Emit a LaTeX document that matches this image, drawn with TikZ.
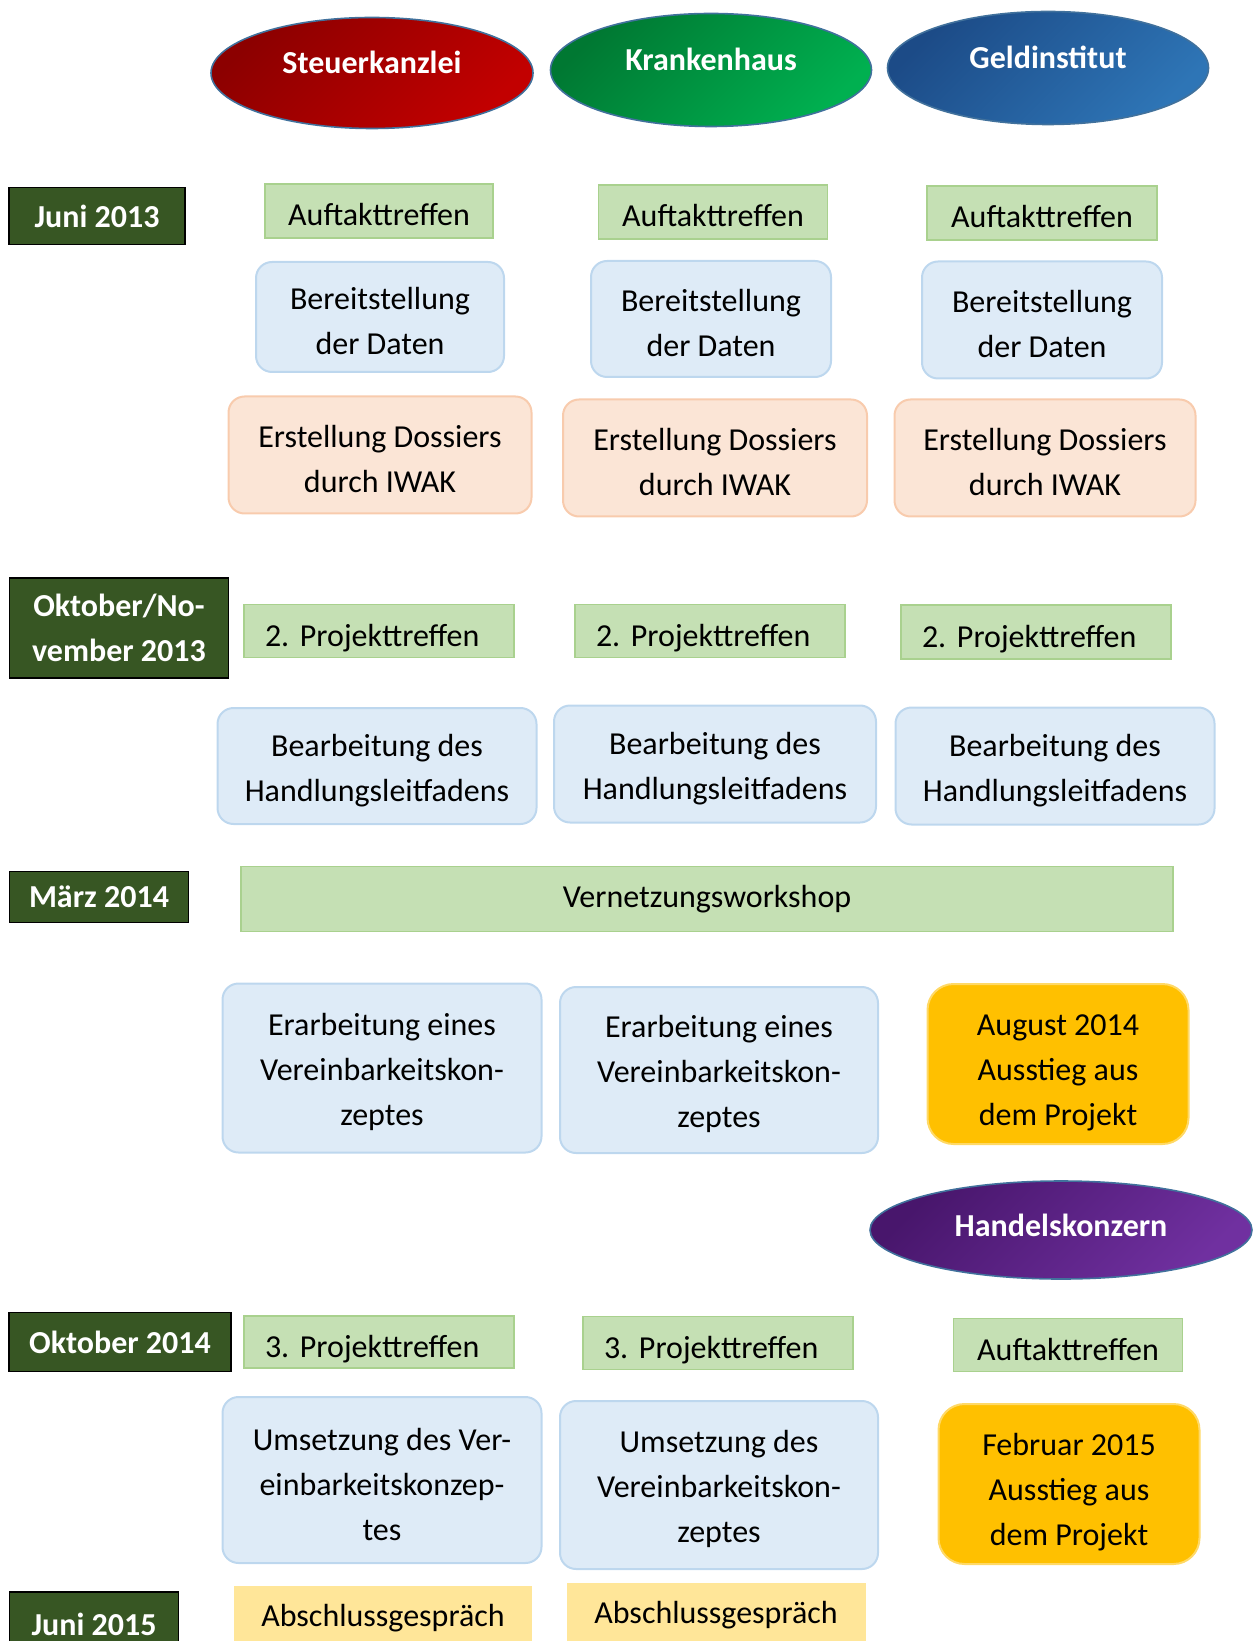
\documentclass[tikz,border=0pt]{standalone}
\usepackage{fontspec}
\setmainfont{Carlito}
\usepackage{xcolor}
\usetikzlibrary{shapes.geometric}

\definecolor{datgreen}{HTML}{375623}
\definecolor{meetfill}{HTML}{C5E0B4}
\definecolor{meetline}{HTML}{A9D18E}
\definecolor{taskfill}{HTML}{DEEBF7}
\definecolor{taskline}{HTML}{BDD7EE}
\definecolor{dosfill}{HTML}{FBE5D6}
\definecolor{dosline}{HTML}{F8CBAD}
\definecolor{goldfill}{HTML}{FFC000}
\definecolor{goldline}{HTML}{FFD966}
\definecolor{absfill}{HTML}{FFE699}
\definecolor{ellline}{HTML}{41719C}

% pushes the first line of a box a little down
\newcommand{\topgap}[1][15.5pt]{\rule{0pt}{#1}}

\begin{document}
\begin{tikzpicture}[
  x=0.5pt, y=-0.5pt,
  font=\fontsize{16}{22.5}\selectfont\frenchspacing,
  sz/.style 2 args={minimum width=#1, minimum height=#2},
  company/.style={ellipse, draw=ellline, line width=0.8pt, inner sep=0pt,
                  text=white, font=\fontsize{16}{20}\selectfont\bfseries,
                  text height=11pt, text depth=10pt},
  datum/.style={draw=black, line width=0.8pt, fill=datgreen, text=white,
                font=\fontsize{16}{22.5}\selectfont\bfseries, align=center, inner sep=0pt},
  meet/.style={draw=meetline, line width=0.6pt, fill=meetfill, inner sep=0pt,
               text height=18pt, text depth=3pt},
  proj/.style={meet, align=left, text width=114pt, inner xsep=10.5pt},
  task/.style={rectangle, rounded corners=8pt, draw=taskline, line width=1pt,
               fill=taskfill, align=center, inner sep=0pt},
  dossier/.style={task, draw=dosline, fill=dosfill},
  ausstieg/.style={task, rounded corners=13pt, draw=goldline, fill=goldfill},
  abschluss/.style={fill=absfill, inner sep=0pt}
]
\useasboundingbox (0,0) rectangle (1253,1641);
\clip (0,0) rectangle (1253,1641);

% Unternehmen
\node[company, sz={161pt}{55.5pt}, top color=red!55!black, bottom color=red!75!black!95!red,
      shading angle=45] (steuer) at (372,73) {Steuerkanzlei};
\node[company, sz={160.5pt}{56.5pt}, top color={rgb,255:red,0;green,120;blue,50},
      bottom color={rgb,255:red,0;green,176;blue,80}, shading angle=45] (kranken) at (711,70) {Krankenhaus};
\node[company, sz={160.5pt}{56.5pt}, top color={rgb,255:red,28;green,75;blue,135},
      bottom color={rgb,255:red,46;green,117;blue,182}, shading angle=45] (geld) at (1048,68) {Geldinstitut};
\node[company, sz={191pt}{49pt}, text depth=5pt, top color={rgb,255:red,72;green,22;blue,108},
      bottom color={rgb,255:red,112;green,48;blue,160}, shading angle=45] (handel) at (1061,1230) {Handelskonzern};

% Zeitpunkte
\node[datum, sz={88pt}{28.5pt}] (juni13) at (97,216) {Juni 2013};
\node[datum, sz={109.5pt}{50pt}] (okt13) at (119,628) {Oktober/No-\\vember 2013};
\node[datum, sz={89.5pt}{25.5pt}] (maerz14) at (99,897) {März 2014};
\node[datum, sz={111pt}{29.5pt}] (okt14) at (120,1342) {Oktober 2014};
\node[datum, sz={84.5pt}{32pt}] (juni15) at (94,1624) {Juni 2015};

% Juni 2013
\node[meet, sz={114pt}{27pt}] (auf1) at (379,211) {Auftakttreffen};
\node[meet, sz={114.5pt}{27pt}] (auf2) at (713,212) {Auftakttreffen};
\node[meet, sz={115pt}{27pt}] (auf3) at (1042,213) {Auftakttreffen};
\node[task, sz={124pt}{55pt}] (daten1) at (380,317) {\topgap Bereitstellung\\der Daten};
\node[task, sz={120pt}{58pt}] (daten2) at (711,319) {\topgap Bereitstellung\\der Daten};
\node[task, sz={120pt}{58.5pt}] (daten3) at (1042,320) {\topgap Bereitstellung\\der Daten};
\node[dossier, sz={151.5pt}{58.5pt}] (dos1) at (380,455) {\topgap Erstellung Dossiers\\durch IWAK};
\node[dossier, sz={152pt}{58.5pt}] (dos2) at (715,458) {\topgap Erstellung Dossiers\\durch IWAK};
\node[dossier, sz={150.5pt}{58.5pt}] (dos3) at (1045,458) {\topgap Erstellung Dossiers\\durch IWAK};

% Oktober/November 2013
\node[proj, minimum height=26.5pt] (pt1) at (379,631) {2. Projekttreffen};
\node[proj, minimum height=26.5pt] (pt2) at (710,631) {2. Projekttreffen};
\node[proj, minimum height=27pt] (pt3) at (1036,632) {2. Projekttreffen};
\node[task, sz={159.5pt}{58pt}] (leit1) at (377,766) {\topgap Bearbeitung des\\Handlungsleitfadens};
\node[task, sz={161pt}{58.5pt}] (leit2) at (715,764) {\topgap Bearbeitung des\\Handlungsleitfadens};
\node[task, sz={159.5pt}{58.5pt}] (leit3) at (1055,766) {\topgap Bearbeitung des\\Handlungsleitfadens};

% März 2014
\node[meet, sz={466pt}{32.5pt}, text height=11.5pt, text depth=3.5pt] (vernetz) at (707,899) {Vernetzungsworkshop};
\node[task, sz={159.5pt}{84.5pt}] (konz1) at (382,1068) {\topgap Erarbeitung eines\\Vereinbarkeitskon-\\zeptes};
\node[task, sz={159pt}{83pt}] (konz2) at (719,1070) {\topgap Erarbeitung eines\\Vereinbarkeitskon-\\zeptes};
\node[ausstieg, sz={130.5pt}{80pt}] (aus1) at (1058,1064) {\topgap[19.5pt]August 2014\\Ausstieg aus\\dem Projekt};

% Oktober 2014
\node[proj, minimum height=26pt] (dt1) at (379,1342) {3. Projekttreffen};
\node[proj, minimum height=26.5pt] (dt2) at (718,1343) {3. Projekttreffen};
\node[meet, sz={114.5pt}{26.5pt}] (auf4) at (1068,1345) {Auftakttreffen};
\node[task, sz={159.5pt}{83pt}] (ums1) at (382,1480) {\topgap Umsetzung des Ver-\\einbarkeitskonzep-\\tes};
\node[task, sz={159pt}{84pt}] (ums2) at (719,1485) {\topgap Umsetzung des\\Vereinbarkeitskon-\\zeptes};
\node[ausstieg, sz={130.5pt}{80pt}] (aus2) at (1069,1484) {\topgap[19.5pt]Februar 2015\\Ausstieg aus\\dem Projekt};

% Juni 2015
\node[abschluss, sz={149pt}{32pt}] (absch1) at (383,1618) {Abschlussgespräch};
\node[abschluss, sz={149.5pt}{32pt}] (absch2) at (716,1615) {Abschlussgespräch};
\end{tikzpicture}
\end{document}
